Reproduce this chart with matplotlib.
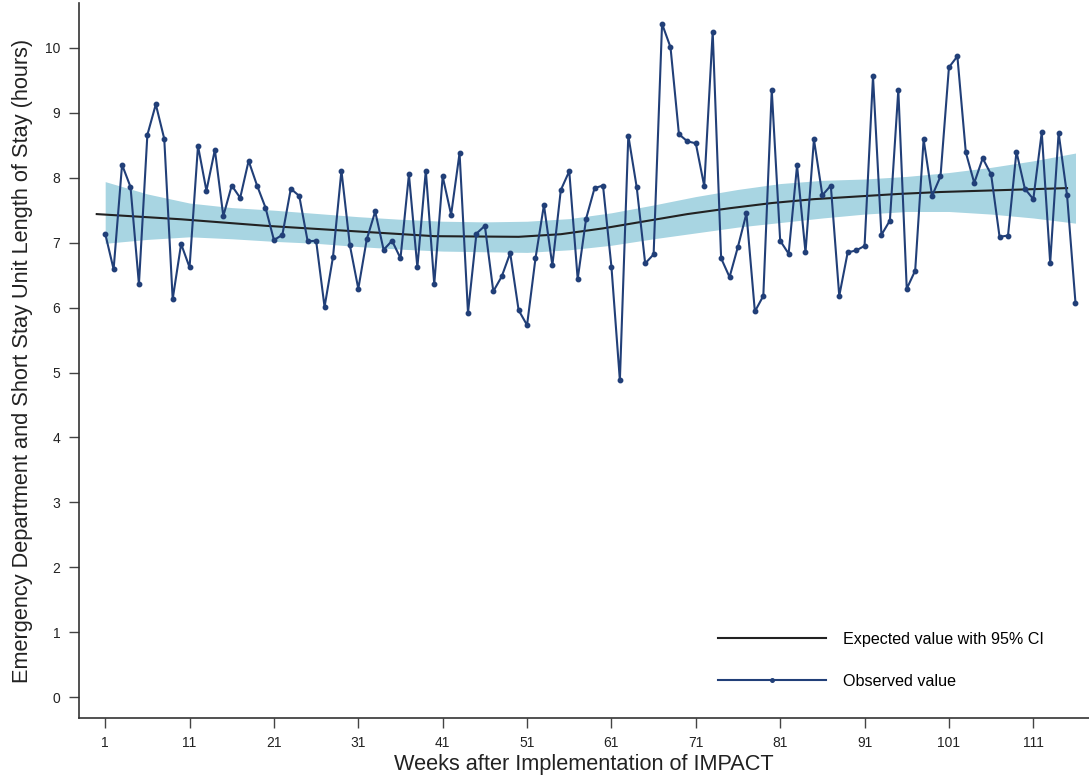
import matplotlib
matplotlib.use("Agg")
import matplotlib.pyplot as plt
import numpy as np

plt.rcParams['font.family'] = ['Liberation Sans', 'DejaVu Sans']

weeks = list(range(1, 117))
observed = [
    7.14, 6.59, 8.20, 7.86, 6.36, 8.66, 9.13, 8.60, 6.13, 6.98,
    6.62, 8.49, 7.80, 8.43, 7.41, 7.88, 7.69, 8.26, 7.88, 7.54,
    7.04, 7.12, 7.83, 7.72, 7.02, 7.03, 6.01, 6.78, 8.11, 6.96,
    6.29, 7.05, 7.48, 6.89, 7.03, 6.76, 8.05, 6.62, 8.11, 6.36,
    8.02, 7.43, 8.38, 5.92, 7.14, 7.26, 6.25, 6.48, 6.84, 5.96,
    5.73, 6.76, 7.58, 6.65, 7.81, 8.10, 6.44, 7.37, 7.84, 7.88,
    6.63, 4.88, 8.65, 7.85, 6.68, 6.82, 10.37, 10.01, 8.67, 8.56,
    8.53, 7.87, 10.25, 6.76, 6.47, 6.94, 7.45, 5.94, 6.18, 9.35,
    7.03, 6.83, 8.19, 6.85, 8.59, 7.73, 7.88, 6.18, 6.85, 6.88,
    6.95, 9.56, 7.12, 7.34, 9.35, 6.29, 6.57, 8.59, 7.72, 8.02,
    9.70, 9.87, 8.39, 7.92, 8.30, 8.05, 7.09, 7.11, 8.40, 7.83,
    7.67, 8.70, 6.69, 8.69, 7.73, 6.07,
]

# expected value curve (as drawn, offset one week to the left)
expected_x = [0, 10, 20, 30, 40, 50, 55, 60, 65, 70, 75, 80, 85, 90, 95, 100, 105, 110, 115]
expected_y = [7.44, 7.36, 7.26, 7.18, 7.10, 7.09, 7.13, 7.22, 7.33, 7.44, 7.53, 7.61,
              7.67, 7.71, 7.75, 7.78, 7.80, 7.82, 7.84]

ci_x = [1, 6, 11, 16, 21, 26, 31, 36, 41, 46, 51, 56, 61, 66, 71, 76, 81, 86, 91, 96,
        101, 106, 111, 116]
ci_upper = [7.94, 7.75, 7.61, 7.54, 7.50, 7.45, 7.40, 7.36, 7.33, 7.32, 7.33, 7.37,
            7.46, 7.58, 7.71, 7.82, 7.91, 7.96, 7.98, 8.02, 8.08, 8.16, 8.26, 8.38]
ci_lower = [6.99, 7.05, 7.09, 7.06, 7.02, 6.99, 6.94, 6.90, 6.87, 6.86, 6.85, 6.89,
            6.96, 7.06, 7.15, 7.24, 7.31, 7.38, 7.44, 7.48, 7.48, 7.44, 7.38, 7.30]

xticks = [1, 11, 21, 31, 41, 51, 61, 71, 81, 91, 101, 111]
yticks = list(range(0, 11))

navy = '#213f78'
band = '#a8d5e2'

fig = plt.figure(figsize=(10.89, 7.78), dpi=100)
ax = fig.add_axes([0.0721, 0.0771, 0.9279, 0.9190])

ax.fill_between(ci_x, ci_lower, ci_upper, color=band, linewidth=0, zorder=1)
exp_line, = ax.plot(expected_x, expected_y, color='#222222', linewidth=1.5, zorder=2,
                    label='Expected value with 95% CI')
obs_line, = ax.plot(weeks, observed, color=navy, linewidth=1.5, marker='o', markersize=3.2,
                    zorder=3, label='Observed value')

ax.set_xlim(-2.16, 117.6)
ax.set_ylim(-0.32, 10.69)
ax.set_xticks(xticks)
ax.set_yticks(yticks)
ax.tick_params(axis='both', length=7, width=1, color='#444444', labelsize=10,
               labelcolor='#222222', pad=6)
for s in ['top', 'right']:
    ax.spines[s].set_visible(False)
for s in ['left', 'bottom']:
    ax.spines[s].set_color('#333333')
    ax.spines[s].set_linewidth(1.2)

ax.set_xlabel('Weeks after Implementation of IMPACT', fontsize=15.7, color='#222222', labelpad=3)
ax.set_ylabel('Emergency Department and Short Stay Unit Length of Stay (hours)',
              fontsize=15.7, color='#222222', labelpad=9)

fig.legend(handles=[exp_line, obs_line], loc='upper left',
           bbox_to_anchor=(0.6593, 0.1875), frameon=False, fontsize=11.6,
           handlelength=6.7, handletextpad=1.05, labelspacing=1.65,
           borderpad=0, borderaxespad=0, numpoints=1, markerscale=0.8)

fig.savefig('out.png', dpi=100)
